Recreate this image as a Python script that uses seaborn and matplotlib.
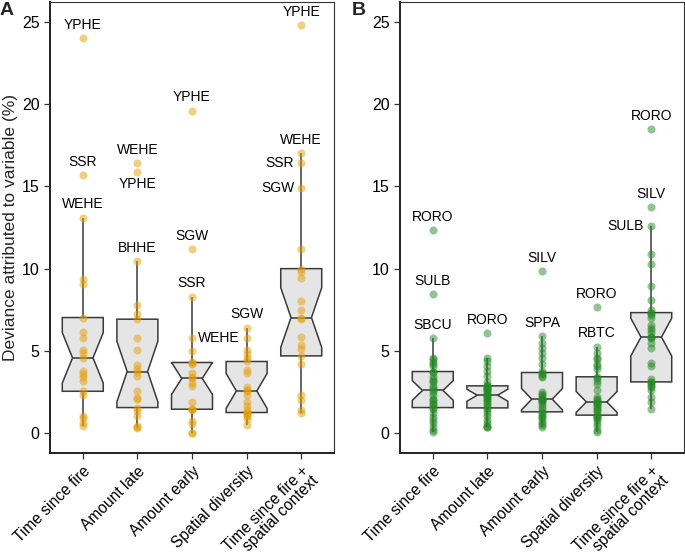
import matplotlib
matplotlib.use("Agg")
import matplotlib.pyplot as plt
import seaborn as sns
import pandas as pd

sns.set_theme(style="ticks")
plt.rcParams["font.family"] = ["Liberation Sans", "DejaVu Sans"]

# -------------------------------
# DATA
# -------------------------------
categories = ["Time since fire", "Amount late", "Amount early", "Spatial diversity",
              "Time since fire +\nspatial context"]

# Panel A (orange)
a_time_fire = [0.45, 0.6, 0.9, 1.05, 2.33, 2.55, 3.2, 3.4, 3.6, 3.8, 4.58, 4.9, 5.05, 5.8, 6.16,
               7.03, 9.06, 9.36, 13.1, 15.7, 24.0]
a_amount_late = [0.3, 0.35, 0.44, 1.05, 1.36, 1.56, 2.07, 2.13, 2.57, 3.48, 3.75, 3.93, 4.13, 5.07,
                 5.8, 6.93, 7.27, 7.8, 10.47, 15.9, 16.4]
a_amount_early = [0.0, 0.04, 0.55, 0.75, 1.42, 1.46, 1.5, 1.9, 2.88, 3.08, 3.33, 3.4, 3.63, 4.2,
                  4.25, 4.3, 4.97, 5.8, 8.3, 11.2, 19.6]
a_spatial_div = [0.49, 0.85, 1.05, 1.1, 1.2, 1.26, 1.42, 1.66, 1.9, 2.3, 2.57, 2.64, 2.78, 3.69,
                 3.83, 4.36, 4.55, 4.8, 5.07, 5.8, 6.42]
a_fire_context = [1.26, 1.42, 2.0, 2.33, 4.19, 4.7, 5.1, 5.35, 5.82, 6.95, 7.03, 7.5, 8.04, 9.46,
                  9.77, 10.0, 11.2, 14.9, 16.4, 17.0, 24.8]

a_label_cat = [0, 0, 0, 1, 1, 1, 2, 2, 2, 3, 3, 4, 4, 4, 4]
a_label_text = ["YPHE", "SSR", "WEHE", "WEHE", "YPHE", "BHHE", "YPHE", "SGW", "SSR",
                "SGW", "WEHE", "YPHE", "WEHE", "SSR", "SGW"]
a_label_value = [24.0, 15.7, 13.1, 16.4, 15.9, 10.47, 19.6, 11.2, 8.3, 6.42, 5.8, 24.8, 17.0, 16.4, 14.9]
a_label_side = ["above", "above", "above", "above", "below", "above", "above", "above", "above",
                "above", "left", "above", "above", "left", "left"]

# Panel B (green)
b_time_fire = [0.05, 0.2, 0.4, 0.6, 0.8, 1.0, 1.2, 1.45, 1.56, 1.7, 1.8, 1.9, 2.0, 2.1, 2.3, 2.5,
               2.6, 2.75, 2.9, 3.1, 3.2, 3.3, 3.5, 3.7, 3.75, 4.1, 4.19, 4.3, 4.5, 4.6, 5.8, 8.45, 12.34]
b_amount_late = [0.35, 0.4, 0.45, 0.65, 0.8, 1.05, 1.2, 1.4, 1.54, 1.65, 1.8, 1.9, 2.0, 2.1, 2.2,
                 2.25, 2.31, 2.4, 2.5, 2.6, 2.65, 2.7, 2.75, 2.8, 2.88, 2.95, 3.1, 3.5, 3.8, 4.1,
                 4.4, 4.6, 6.1]
b_amount_early = [0.35, 0.5, 0.65, 0.75, 0.9, 1.0, 1.1, 1.2, 1.3, 1.5, 1.6, 1.8, 1.9, 2.0, 2.0,
                  2.05, 2.07, 2.2, 2.3, 2.4, 2.5, 3.4, 3.5, 3.6, 3.69, 3.8, 4.2, 4.6, 4.9, 5.2,
                  5.5, 5.9, 9.85]
b_spatial_div = [0.05, 0.2, 0.45, 0.6, 0.8, 0.9, 1.0, 1.05, 1.1, 1.3, 1.4, 1.5, 1.6, 1.7, 1.8,
                 1.85, 1.9, 2.0, 2.1, 2.2, 2.6, 3.0, 3.2, 3.35, 3.43, 3.9, 4.1, 4.2, 4.5, 4.6,
                 4.9, 5.27, 7.68]
b_fire_context = [1.5, 1.9, 2.2, 2.6, 2.8, 2.9, 3.0, 3.1, 3.12, 3.3, 4.1, 4.25, 5.2, 5.5, 5.8,
                  5.82, 5.84, 6.1, 6.3, 6.4, 6.6, 7.0, 7.2, 7.3, 7.33, 7.5, 8.08, 8.95, 10.27,
                  10.88, 12.6, 13.75, 18.5]

b_label_cat = [0, 0, 0, 1, 2, 2, 3, 3, 4, 4, 4]
b_label_text = ["RORO", "SULB", "SBCU", "RORO", "SILV", "SPPA", "RORO", "RBTC", "RORO", "SILV", "SULB"]
b_label_value = [12.34, 8.45, 5.8, 6.1, 9.85, 5.9, 7.68, 5.27, 18.5, 13.75, 12.6]
b_label_side = ["above", "above", "above", "above", "above", "above", "above", "above",
                "above", "above", "left"]


def to_long(series_list):
    rows = []
    for cat, vals in zip(categories, series_list):
        for v in vals:
            rows.append({"variable": cat, "deviance": v})
    return pd.DataFrame(rows)


def draw_panel(ax, df, point_color, lab_cat, lab_text, lab_val, lab_side):
    sns.boxplot(data=df, x="variable", y="deviance", order=categories, ax=ax,
                notch=True, showfliers=False, showcaps=False, width=0.75,
                color="#E5E5E5", saturation=1, linecolor="#3A3A3A", linewidth=1.1)
    sns.stripplot(data=df, x="variable", y="deviance", order=categories, ax=ax,
                  jitter=False, color=point_color, alpha=0.5, size=5.8, linewidth=0, zorder=5)
    for c, t, v, s in zip(lab_cat, lab_text, lab_val, lab_side):
        if s == "above":
            ax.text(c, v + 0.8, t, ha="center", va="center", fontsize=10, color="black")
        elif s == "below":
            ax.text(c, v - 0.75, t, ha="center", va="center", fontsize=10, color="black")
        else:
            ax.text(c - 0.13, v, t, ha="right", va="center", fontsize=10, color="black")

    ax.set_xlim(-0.6, 4.6)
    ax.set_ylim(-1.2, 26.2)
    ax.set_yticks([0, 5, 10, 15, 20, 25])
    ax.set_xlabel("")
    ax.set_ylabel("")
    ax.tick_params(axis="both", length=4, width=0.9, color="#333333", labelcolor="black")
    ax.tick_params(axis="y", labelsize=11.5)
    ax.tick_params(axis="x", labelsize=11.2, pad=3.5)
    plt.setp(ax.get_xticklabels(), rotation=45, ha="right", rotation_mode="anchor", linespacing=0.85)
    for side in ["top", "right"]:
        ax.spines[side].set_visible(True)
        ax.spines[side].set_linewidth(0.8)
        ax.spines[side].set_color("#333333")
    for side in ["left", "bottom"]:
        ax.spines[side].set_linewidth(1.4)
        ax.spines[side].set_color("#222222")


fig = plt.figure(figsize=(6.85, 5.59), dpi=100)
ax_a = fig.add_axes([50 / 685, 1 - 453 / 559, 284 / 685, 451 / 559])
ax_b = fig.add_axes([400 / 685, 1 - 453 / 559, 284 / 685, 451 / 559])

draw_panel(ax_a, to_long([a_time_fire, a_amount_late, a_amount_early, a_spatial_div, a_fire_context]),
           "#E69F00", a_label_cat, a_label_text, a_label_value, a_label_side)
draw_panel(ax_b, to_long([b_time_fire, b_amount_late, b_amount_early, b_spatial_div, b_fire_context]),
           "#228B22", b_label_cat, b_label_text, b_label_value, b_label_side)

ax_a.set_ylabel("Deviance attributed to variable (%)", fontsize=12.5, labelpad=3)

fig.text(0.0, 0.997, "A", fontsize=14, fontweight="bold", ha="left", va="top")
fig.text(352 / 685, 0.997, "B", fontsize=14, fontweight="bold", ha="left", va="top")

fig.savefig("out.png", dpi=100)
